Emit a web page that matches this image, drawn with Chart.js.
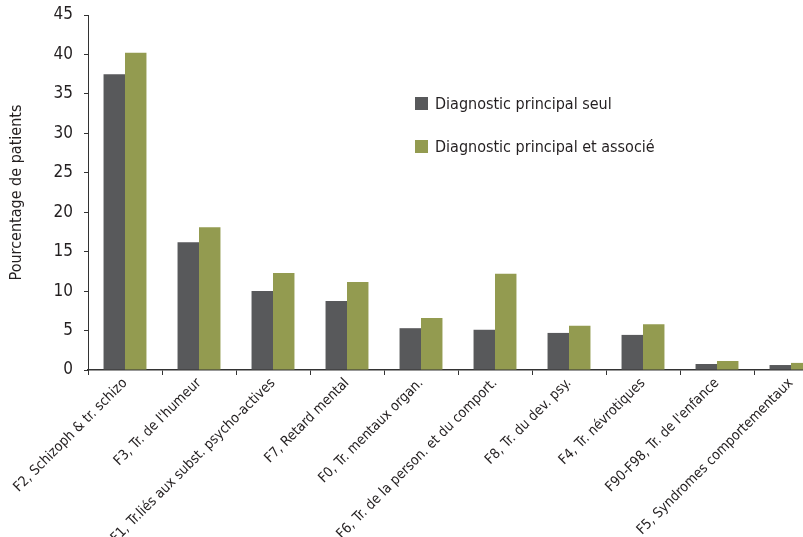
<!DOCTYPE html>
<html>
<head>
<meta charset="utf-8">
<script src="https://cdn.jsdelivr.net/npm/chart.js@4"></script>
<style>
  body { margin: 0; overflow: hidden; background: #fff; }
  #wrap { position: relative; width: 828px; height: 537px; }
  #legend { position: absolute; left: 415px; top: 94px; font-family: "DejaVu Sans Condensed", sans-serif; font-size: 16px; color: #231f20; }
  .item { height: 20px; line-height: 20px; margin-bottom: 23px; white-space: nowrap; }
  .box { display: inline-block; width: 13px; height: 13px; margin-right: 7px; vertical-align: -1px; }
</style>
</head>
<body>
<div id="wrap">
  <canvas id="myChart" width="828" height="537"></canvas>
  <div id="legend"></div>
</div>
<script>
// categories and values
const categories = [
    'F2, Schizoph & tr. schizo',
    "F3, Tr. de l'humeur",
    'F1, Tr.liés aux subst. psycho-actives',
    'F7, Retard mental',
    'F0, Tr. mentaux organ.',
    'F6, Tr. de la person. et du comport.',
    'F8, Tr. du dev. psy.',
    'F4, Tr. névrotiques',
    "F90-F98, Tr. de l'enfance",
    'F5, Syndromes comportementaux'
];
const seriesNames = ['Diagnostic principal seul', 'Diagnostic principal et associé'];
const principalSeul = [37.5, 16.2, 10.0, 8.75, 5.3, 5.1, 4.7, 4.45, 0.76, 0.63];
const principalAssocie = [40.2, 18.1, 12.3, 11.15, 6.6, 12.2, 5.6, 5.8, 1.14, 0.9];
const colors = ['#58595b', '#939b50'];

const font = '"DejaVu Sans Condensed", sans-serif';

// legend as html, placed inside the plot like the original
const legend = document.getElementById('legend');
seriesNames.forEach((name, i) => {
    var item = document.createElement('div');
    item.className = 'item';
    item.innerHTML = '<span class="box" style="background:' + colors[i] + '"></span>' + name;
    legend.appendChild(item);
});

var ctx = document.getElementById('myChart');
var myChart = new Chart(ctx, {
    type: 'bar',
    data: {
        labels: categories,
        datasets: [
            { label: seriesNames[0], data: principalSeul, backgroundColor: colors[0] },
            { label: seriesNames[1], data: principalAssocie, backgroundColor: colors[1] }
        ]
    },
    options: {
        responsive: false,
        animation: false,
        events: [],
        categoryPercentage: 0.58,
        barPercentage: 1,
        layout: { padding: { top: 15, left: 0, right: 0, bottom: 0 } },
        plugins: {
            legend: { display: false },
            tooltip: { enabled: false }
        },
        scales: {
            x: {
                grid: {
                    drawOnChartArea: false,
                    drawTicks: true,
                    tickLength: 5,
                    color: '#333'
                },
                border: { color: '#333', width: 1.5 },
                ticks: {
                    minRotation: 45,
                    maxRotation: 45,
                    autoSkip: false,
                    padding: 0,
                    color: '#231f20',
                    font: { family: font, size: 14 }
                },
                afterFit: function(scale) { scale.height = 167; }
            },
            y: {
                min: 0,
                max: 45,
                ticks: {
                    stepSize: 5,
                    padding: 11,
                    color: '#231f20',
                    font: { family: font, size: 17 }
                },
                grid: {
                    drawOnChartArea: false,
                    drawTicks: true,
                    tickLength: 4,
                    color: '#333'
                },
                border: { color: '#333', width: 1 },
                title: {
                    display: true,
                    text: 'Pourcentage de patients',
                    color: '#231f20',
                    padding: { top: 7, bottom: 0 },
                    font: { family: font, size: 16 }
                },
                afterFit: function(scale) {
                    scale.width = 88;
                    scale.paddingTop = 0;
                    scale.paddingBottom = 0;
                }
            }
        }
    }
});
</script>
</body>
</html>
